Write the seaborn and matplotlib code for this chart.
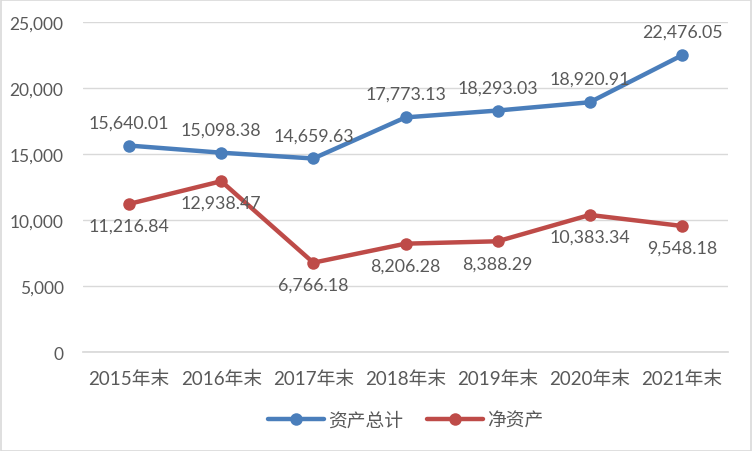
import matplotlib
matplotlib.use("Agg")
import matplotlib.pyplot as plt
import seaborn as sns
import pandas as pd

categories = ["2015年末", "2016年末", "2017年末", "2018年末", "2019年末", "2020年末", "2021年末"]
total_assets = [15640.01, 15098.38, 14659.63, 17773.13, 18293.03, 18920.91, 22476.05]
net_assets = [11216.84, 12938.47, 6766.18, 8206.28, 8388.29, 10383.34, 9548.18]
series_names = ["资产总计", "净资产"]
yticks = [0, 5000, 10000, 15000, 20000, 25000]

sns.set_theme(style="white")
plt.rcParams['font.family'] = ['Lato', 'Noto Sans CJK SC', 'DejaVu Sans']

df = pd.DataFrame({
    "x": list(range(len(categories))) * 2,
    "value": total_assets + net_assets,
    "series": [series_names[0]] * len(categories) + [series_names[1]] * len(categories),
})

colors = {"资产总计": "#4A7EBB", "净资产": "#BE4B48"}
text_color = "#595959"

fig = plt.figure(figsize=(7.52, 4.52), dpi=100)
ax = fig.add_axes([83/752, 1 - 353/452, 645/752, 330/452])

sns.lineplot(data=df, x="x", y="value", hue="series", palette=colors, marker="o",
             markersize=9, linewidth=3.2, markeredgewidth=0, ax=ax, legend=True)

ax.set_xlim(-0.5, len(categories) - 0.5)
ax.set_ylim(0, 25000)
ax.set_yticks(yticks)
ax.set_yticklabels([f"{v:,}" for v in yticks])
ax.set_xticks(range(len(categories)))
ax.set_xticklabels(categories)
ax.tick_params(axis="both", length=0, colors=text_color)
ax.tick_params(axis="y", pad=14, labelsize=12.5)
ax.tick_params(axis="x", pad=13, labelsize=13.5)
ax.set_xlabel("")
ax.set_ylabel("")
ax.grid(axis="y", color="#D9D9D9", linewidth=1)
for s in ["top", "right", "left"]:
    ax.spines[s].set_visible(False)
ax.spines["bottom"].set_color("#D9D9D9")

for i, v in enumerate(total_assets):
    ax.annotate(f"{v:,.2f}", (i, v), xytext=(0, 11), textcoords="offset points",
                ha="center", va="bottom", fontsize=12.8, color=text_color)
for i, v in enumerate(net_assets):
    ax.annotate(f"{v:,.2f}", (i, v), xytext=(0, -10), textcoords="offset points",
                ha="center", va="top", fontsize=12.8, color=text_color)

handles, labels = ax.get_legend_handles_labels()
leg = ax.legend(handles, labels, loc="center", bbox_to_anchor=(0.5, (1 - 421/452 - (1 - 353/452)) / (330/452)),
                ncol=2, frameon=False, fontsize=13.5, handlelength=3, columnspacing=1.3,
                handletextpad=0.2)
for t in leg.get_texts():
    t.set_color(text_color)

fig.patches.append(plt.Rectangle((0.001, 0.001), 0.998, 0.997, transform=fig.transFigure,
                                 fill=False, edgecolor="#D9D9D9", linewidth=1.2))

fig.savefig("out.png", dpi=100)
